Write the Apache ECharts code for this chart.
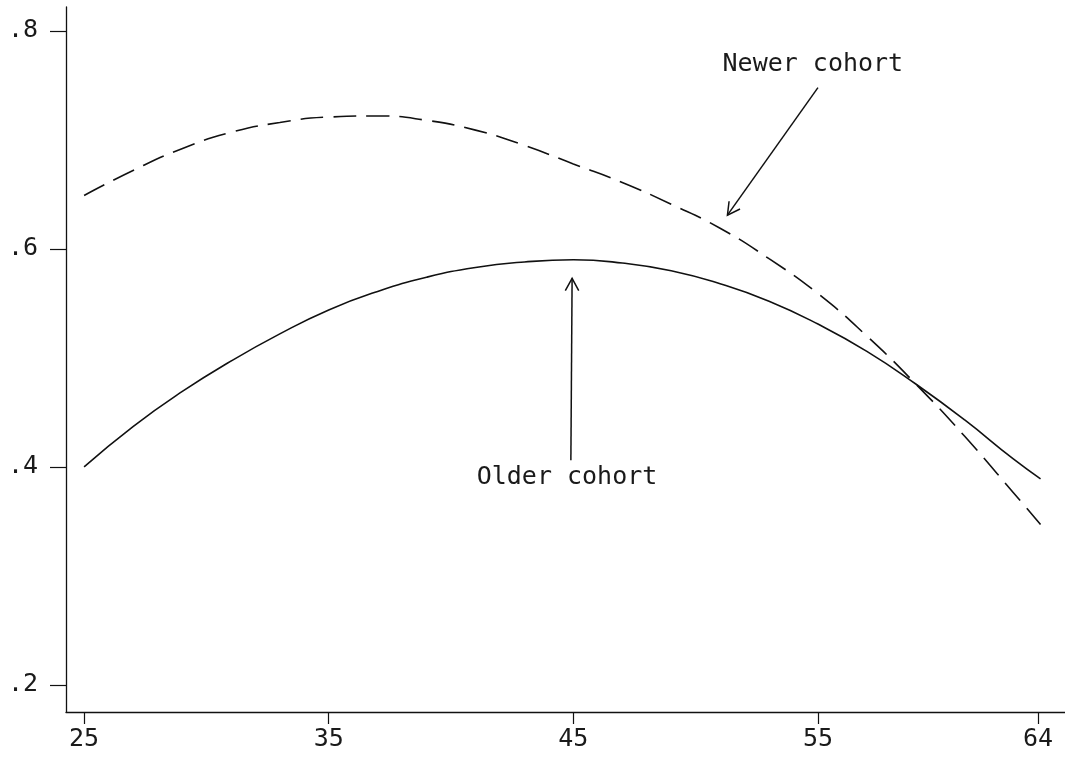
<!DOCTYPE html>
<html>
<head>
<meta charset="utf-8">
<script src="https://cdn.jsdelivr.net/npm/echarts@6/dist/echarts.min.js"></script>
<style>
html,body{margin:0;padding:0;background:#fff;}
#chart{width:1065px;height:768px;}
</style>
</head>
<body>
<div id="chart"></div>
<script>
// ---- data ----
const xTicks = [25, 35, 45, 55, 64];
const yTicks = [0.2, 0.4, 0.6, 0.8];

const olderAge = [25, 27, 29, 31, 33, 35, 37, 39, 41, 43, 45, 47, 49, 51, 53, 55, 57, 59, 61, 63, 64.1];
const olderVal = [0.400, 0.437, 0.469, 0.497, 0.522, 0.544, 0.561, 0.574, 0.583, 0.588, 0.590, 0.587, 0.580, 0.568, 0.552, 0.531, 0.506, 0.476, 0.443, 0.407, 0.389];

const newerAge = [25, 27, 29, 31, 33, 35, 37, 39, 41, 43, 45, 47, 49, 51, 53, 55, 57, 59, 61, 63, 64.1];
const newerVal = [0.649, 0.672, 0.692, 0.707, 0.716, 0.721, 0.722, 0.718, 0.709, 0.695, 0.678, 0.661, 0.641, 0.619, 0.591, 0.559, 0.520, 0.476, 0.428, 0.376, 0.347];

const labelTexts = ['Newer cohort', 'Older cohort'];
const labelAt = [[51.1, 0.769], [41.05, 0.390]];
const arrowFrom = [[55.0, 0.748], [44.9, 0.406]];
const arrowTo = [[51.3, 0.631], [44.95, 0.573]];

const FONT = 'DejaVu Sans Mono';
const zip = (a, b) => a.map((v, i) => [v, b[i]]);

const chart = echarts.init(document.getElementById('chart'));
chart.setOption({
  animation: false,
  backgroundColor: '#fff',
  grid: { left: 66, right: 0, top: 7, bottom: 56, containLabel: false },
  xAxis: {
    type: 'value', min: 24.26, max: 65.1,
    axisLine: { show: true, lineStyle: { color: '#111', width: 1.3 } },
    axisTick: { show: true, length: 12, customValues: xTicks, lineStyle: { color: '#111', width: 1.2 } },
    axisLabel: { customValues: xTicks, color: '#1a1a1a', fontFamily: FONT, fontSize: 25, margin: 15 },
    splitLine: { show: false }
  },
  yAxis: {
    type: 'value', min: 0.175, max: 0.822,
    axisLine: { show: true, lineStyle: { color: '#111', width: 1.3 } },
    axisTick: { show: true, length: 16, customValues: yTicks, lineStyle: { color: '#111', width: 1.2 } },
    axisLabel: { customValues: yTicks, color: '#1a1a1a', fontFamily: FONT, fontSize: 25, margin: 28,
      formatter: v => String(Math.round(v * 10) / 10).replace(/^0/, '') },
    splitLine: { show: false }
  },
  series: [
    { name: 'Older cohort', type: 'line', data: zip(olderAge, olderVal), showSymbol: false, smooth: true,
      lineStyle: { color: '#111', width: 1.6 } },
    { name: 'Newer cohort', type: 'line', data: zip(newerAge, newerVal), showSymbol: false, smooth: true,
      lineStyle: { color: '#111', width: 1.6, type: [23, 10] } }
  ]
});

function drawAnnotations() {
  const els = [];
  labelTexts.forEach((t, i) => {
    const p = chart.convertToPixel({ gridIndex: 0 }, labelAt[i]);
    els.push({ type: 'text', x: p[0], y: p[1],
      style: { text: t, fill: '#1a1a1a', font: '25px "' + FONT + '"', textVerticalAlign: 'middle', textAlign: 'left' } });
  });
  arrowFrom.forEach((f, i) => {
    const a = chart.convertToPixel({ gridIndex: 0 }, f);
    const b = chart.convertToPixel({ gridIndex: 0 }, arrowTo[i]);
    const ang = Math.atan2(b[1] - a[1], b[0] - a[0]);
    const L = 14, spread = 0.5;
    const h1 = [b[0] - L * Math.cos(ang - spread), b[1] - L * Math.sin(ang - spread)];
    const h2 = [b[0] - L * Math.cos(ang + spread), b[1] - L * Math.sin(ang + spread)];
    els.push({ type: 'line', shape: { x1: a[0], y1: a[1], x2: b[0], y2: b[1] }, style: { stroke: '#111', lineWidth: 1.5 } });
    els.push({ type: 'polyline', shape: { points: [h1, b, h2] }, style: { stroke: '#111', lineWidth: 1.5, fill: null } });
  });
  chart.setOption({ graphic: els });
}
drawAnnotations();
</script>
</body>
</html>
